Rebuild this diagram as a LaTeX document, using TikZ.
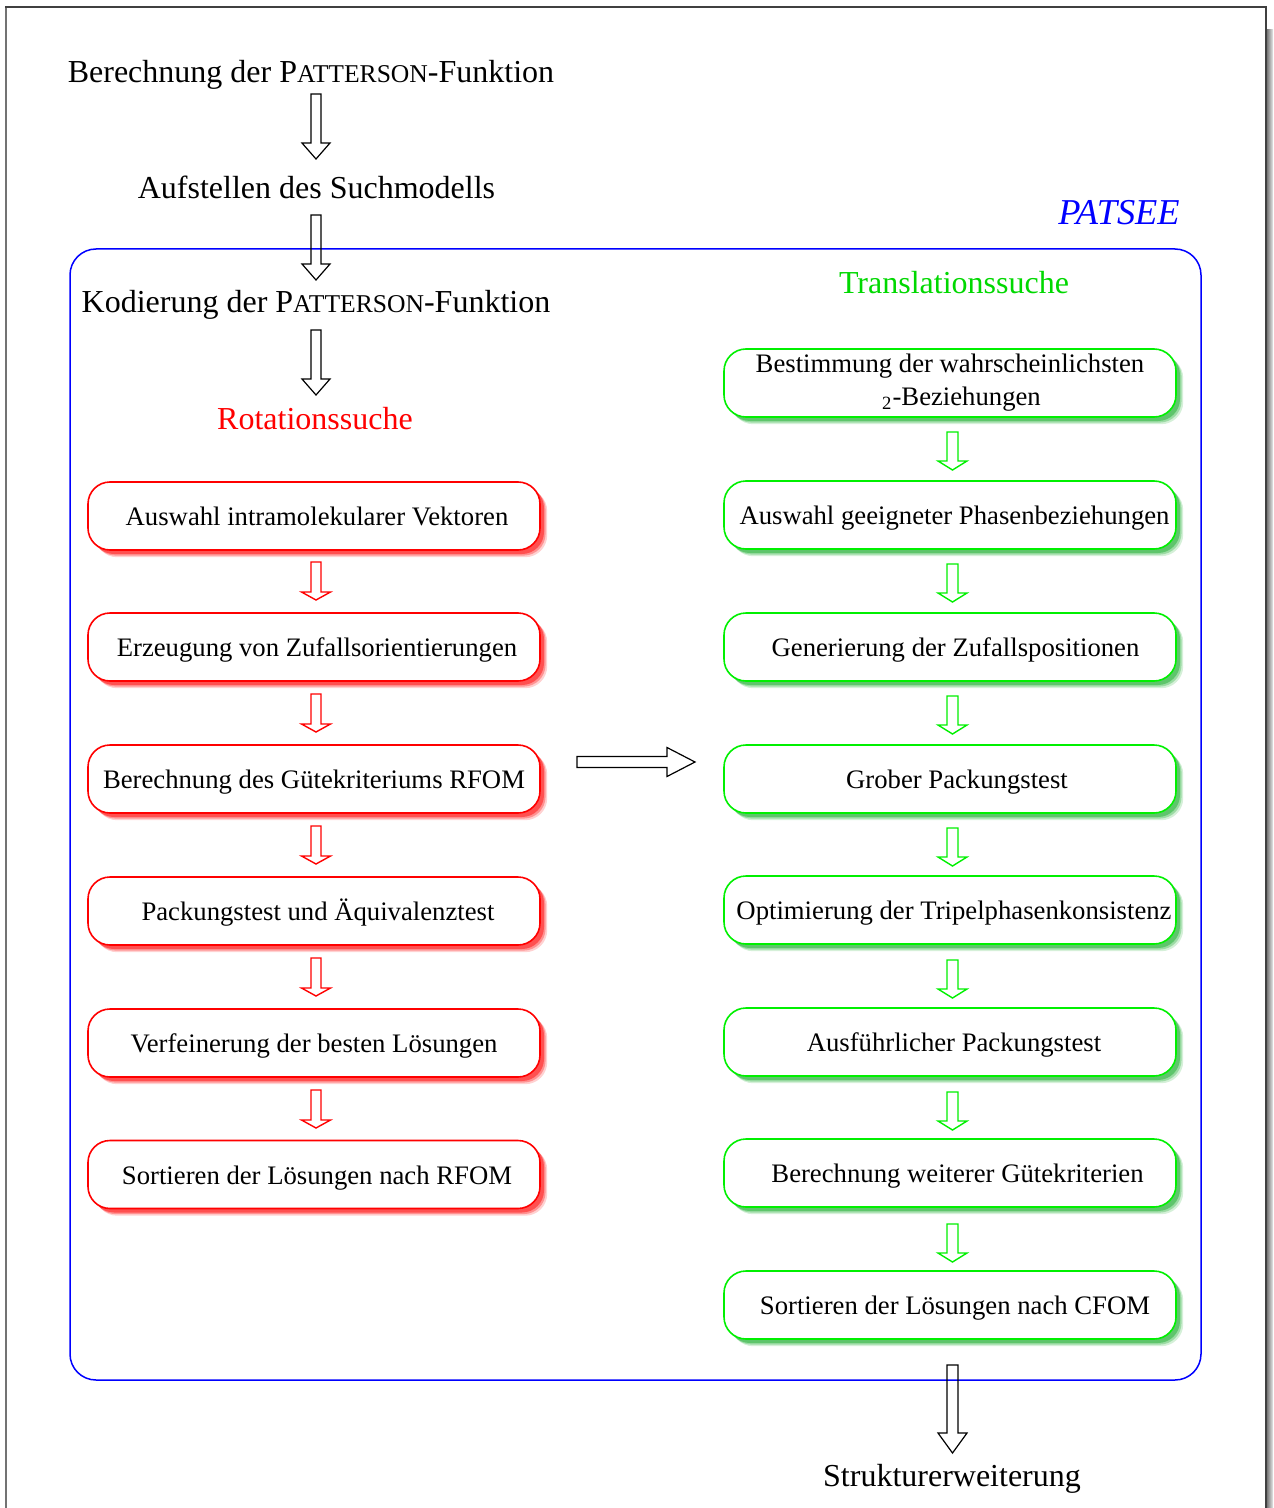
\documentclass[tikz,border=0pt]{standalone}
\usepackage{fontspec}
\setmainfont{Liberation Serif}
\usetikzlibrary{shadows}
\definecolor{myred}{RGB}{255,0,0}
\definecolor{mygreen}{RGB}{0,240,0}
\definecolor{myblue}{RGB}{0,0,255}
\definecolor{shgreen}{RGB}{20,170,40}
\newcommand\pattname{P{\fontsize{12.8}{15}\selectfont ATTERSON}}
\newcommand\boxfont{\fontsize{13.35}{16.5}\selectfont}
\newcommand\hdfont{\fontsize{16}{19}\selectfont}
% down arrow: x, top, head base, tip, shaft half, head half, style
\newcommand\downarr[7]{\draw[#7] ({#1-#5},#2) -- ({#1+#5},#2) -- ({#1+#5},#3) -- ({#1+#6},#3) -- (#1,#4) -- ({#1-#6},#3) -- ({#1-#5},#3) -- cycle;}
\tikzset{
  hd/.style={font=\hdfont, inner sep=0pt, anchor=base},
  arr/.style={line width=0.6pt, draw=black, line join=miter},
  rarr/.style={line width=0.7pt, draw=myred},
  garr/.style={line width=0.7pt, draw=mygreen},
  boxbase/.style={line width=0.8pt, fill=white, rounded corners=11pt, minimum width=226pt, minimum height=34pt, inner sep=0pt, font=\boxfont, align=center, text height=10pt, text depth=0.4pt},
  redbox/.style={boxbase, draw=myred,
    drop shadow={shadow xshift=3.6pt, shadow yshift=-3.6pt, fill=myred, opacity=0.18},
    drop shadow={shadow xshift=2.8pt, shadow yshift=-2.8pt, fill=myred, opacity=0.3},
    drop shadow={shadow xshift=2pt, shadow yshift=-2pt, fill=myred, opacity=0.45}},
  greenbox/.style={boxbase, draw=mygreen,
    drop shadow={shadow xshift=3.6pt, shadow yshift=-3.6pt, fill=shgreen, opacity=0.18},
    drop shadow={shadow xshift=2.8pt, shadow yshift=-2.8pt, fill=shgreen, opacity=0.3},
    drop shadow={shadow xshift=2pt, shadow yshift=-2pt, fill=shgreen, opacity=0.45}},
}
\begin{document}
\begin{tikzpicture}[x=0.5pt, y=-0.5pt]
\useasboundingbox (0,0) rectangle (1273,1508);
% page frame
\fill[left color=black!60, right color=black!8] (1266,30) rectangle (1273,1508);
\draw[black!55, line width=1pt] (5.5,1508) -- (5.5,7);
\draw[black!75, line width=0.6pt] (5,7) -- (1266,7) -- (1266,1508);
% PATSEE frame
\draw[myblue, line width=0.75pt, rounded corners=13pt] (70,249) rectangle (1201,1380);
\node[font=\fontsize{18.2}{21}\selectfont\itshape, text=myblue, inner sep=0pt, anchor=base] (patsee) at (1119,225) {PATSEE};
% headings
\node[hd] (t1) at (311,83) {Berechnung der \pattname-Funktion};
\node[hd] (t2) at (316.5,199) {Aufstellen des Suchmodells};
\node[hd] (t3) at (316,313) {Kodierung der \pattname-Funktion};
\node[hd, text=myred] (rot) at (315,429) {Rotationssuche};
\node[hd, text=mygreen!90!black] (trans) at (954,294) {Translationssuche};
\node[hd] (struk) at (952,1486) {Strukturerweiterung};
% red boxes
\node[redbox] (r1) at (314,516) {\hspace{3pt}Auswahl intramolekularer Vektoren};
\node[redbox] (r2) at (314,647) {\hspace{3pt}Erzeugung von Zufallsorientierungen};
\node[redbox] (r3) at (314,779) {Berechnung des Gütekriteriums RFOM};
\node[redbox] (r4) at (314,911) {\hspace{4pt}Packungstest und Äquivalenztest};
\node[redbox] (r5) at (314,1043) {Verfeinerung der besten Lösungen};
\node[redbox] (r6) at (314,1174.5) {\hspace{3pt}Sortieren der Lösungen nach RFOM};
% green boxes
\node[greenbox, text height=28pt, text depth=6pt] (g1) at (950,383) {Bestimmung der wahrscheinlichsten\hspace{4pt}\\ \hspace{11.5pt}\textsubscript{2}-Beziehungen\hspace{4pt}};
\node[greenbox] (g2) at (950,515) {\hspace{4.5pt}Auswahl geeigneter Phasenbeziehungen};
\node[greenbox] (g3) at (950,647) {\hspace{5.5pt}Generierung der Zufallspositionen};
\node[greenbox] (g4) at (950,779) {\hspace{7pt}Grober Packungstest};
\node[greenbox] (g5) at (950,910) {\hspace{4pt}Optimierung der Tripelphasenkonsistenz};
\node[greenbox] (g6) at (950,1042) {\hspace{4pt}Ausführlicher Packungstest};
\node[greenbox] (g7) at (950,1173) {\hspace{7.5pt}Berechnung weiterer Gütekriterien};
\node[greenbox] (g8) at (950,1305) {\hspace{5pt}Sortieren der Lösungen nach CFOM};
% black hollow arrows
\downarr{316}{94}{143}{159}{5}{14}{arr}
\downarr{316}{215}{264}{280}{5}{14}{arr}
\downarr{316}{330}{379}{395}{5}{14}{arr}
% red arrows
\foreach \k in {0,...,4}{
  \pgfmathsetmacro\yt{562+132*\k}
  \pgfmathsetmacro\yb{592+132*\k}
  \pgfmathsetmacro\yp{600+132*\k}
  \downarr{316}{\yt}{\yb}{\yp}{5}{14.5}{rarr}
}
% green arrows
\foreach \k in {0,...,6}{
  \pgfmathsetmacro\yt{432+132*\k}
  \pgfmathsetmacro\yb{461+132*\k}
  \pgfmathsetmacro\yp{470+132*\k}
  \downarr{952.5}{\yt}{\yb}{\yp}{5.5}{14.5}{garr}
}
% horizontal arrow
\draw[arr] (577,756.5) -- (667,756.5) -- (667,747.5) -- (695,762) -- (667,776.5) -- (667,767.5) -- (577,767.5) -- cycle;
% final arrow
\downarr{952.5}{1365}{1433}{1453}{5.5}{14.5}{arr}
\end{tikzpicture}
\end{document}
